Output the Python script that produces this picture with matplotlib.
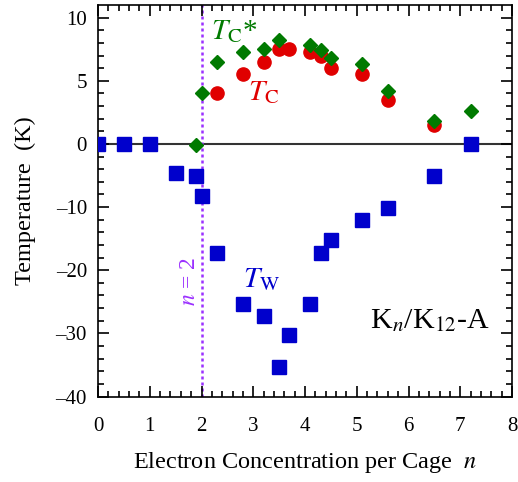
import numpy as np
import matplotlib
matplotlib.use("Agg")
import matplotlib.pyplot as plt

plt.rcParams['font.family'] = ['Liberation Serif', 'DejaVu Serif']
plt.rcParams['mathtext.fontset'] = 'stix'

# T_W (Weiss temperature)
n_w = [0, 0.5, 1.0, 1.5, 1.9, 2.0, 2.3, 2.8, 3.2, 3.5, 3.7, 4.1, 4.3, 4.5, 5.1, 5.6, 6.5, 7.2]
t_w = [0, 0, 0, -4.6, -5.1, -8.2, -17.2, -25.3, -27.3, -35.4, -30.3, -25.3, -17.2, -15.2, -12.0, -10.1, -5.1, 0]

# T_C
n_c = [2.3, 2.8, 3.2, 3.5, 3.7, 4.1, 4.3, 4.5, 5.1, 5.6, 6.5]
t_c = [4.0, 5.5, 6.5, 7.5, 7.5, 7.3, 7.0, 6.0, 5.5, 3.5, 1.5]

# T_C*
n_cs = [1.9, 2.0, 2.3, 2.8, 3.2, 3.5, 4.1, 4.3, 4.5, 5.1, 5.6, 6.5, 7.2]
t_cs = [-0.1, 4.0, 6.5, 7.3, 7.5, 8.2, 7.8, 7.4, 6.8, 6.3, 4.2, 1.8, 2.6]

y_major = [-40, -30, -20, -10, 0, 5, 10]


def fwd(y):
    y = np.asarray(y, dtype=float)
    return np.where(y > 0, 2 * y, y)


def inv(y):
    y = np.asarray(y, dtype=float)
    return np.where(y > 0, y / 2, y)


fig = plt.figure(figsize=(5.18, 4.82), dpi=100)
ax = fig.add_axes([98 / 518, 1 - 396.5 / 482, 414 / 518, 391.5 / 482])
ax.set_yscale('function', functions=(fwd, inv))

ax.axhline(0, color='#333333', lw=1.5, zorder=1)
ax.axvline(2, color='#9b30ff', lw=1.8, ls=(0, (1.2, 1.2)), zorder=1)

ax.plot(n_w, t_w, 's', color='#0000cc', ms=10, zorder=3, ls='none')
ax.plot(n_c, t_c, 'o', color='#e00000', ms=9.5, zorder=3, ls='none')
ax.plot(n_cs, t_cs, 'D', color='#007a00', ms=7, zorder=4, ls='none')

ax.set_xlim(0, 8)
ax.set_ylim(-40, 11)
ax.set_xticks(range(9))
ax.set_xticks(np.arange(0, 8.01, 0.2), minor=True)
ax.set_yticks(y_major)
ax.set_yticklabels([str(v).replace('-', '\u2013') for v in y_major])
ax.set_yticks(list(range(-40, 0, 2)) + list(range(1, 11)), minor=True)

ax.tick_params(which='both', direction='in', top=True, right=True, labelsize=15, width=1.2)
ax.tick_params(which='major', length=8)
ax.tick_params(which='minor', length=4)
ax.tick_params(axis='x', which='major', pad=15)
ax.tick_params(axis='y', which='major', pad=8)
for s in ax.spines.values():
    s.set_linewidth(1.2)

ax.set_xlabel('Electron Concentration per Cage  $n$', fontsize=17.5, labelpad=10)
ax.set_ylabel('Temperature  (K)', fontsize=17.5, labelpad=14)

ax.text(2.18, 8.3, r'$T_\mathrm{C}$*', color='#007a00', fontsize=21, va='baseline', ha='left')
ax.text(2.9, 3.5, r'$T_\mathrm{C}$', color='#e00000', fontsize=21, va='baseline', ha='left')
ax.text(2.8, -22.6, r'$T_\mathrm{W}$', color='#0000cc', fontsize=21, va='baseline', ha='left')
ax.text(1.77, -21.8, r'$n$ = 2', color='#9b30ff', fontsize=17, rotation=90, va='center', ha='center')
ax.text(5.25, -29.1, r'K$_n$/K$_{12}$-A', color='black', fontsize=21.5, va='baseline', ha='left')

fig.savefig('out.png', dpi=100)
